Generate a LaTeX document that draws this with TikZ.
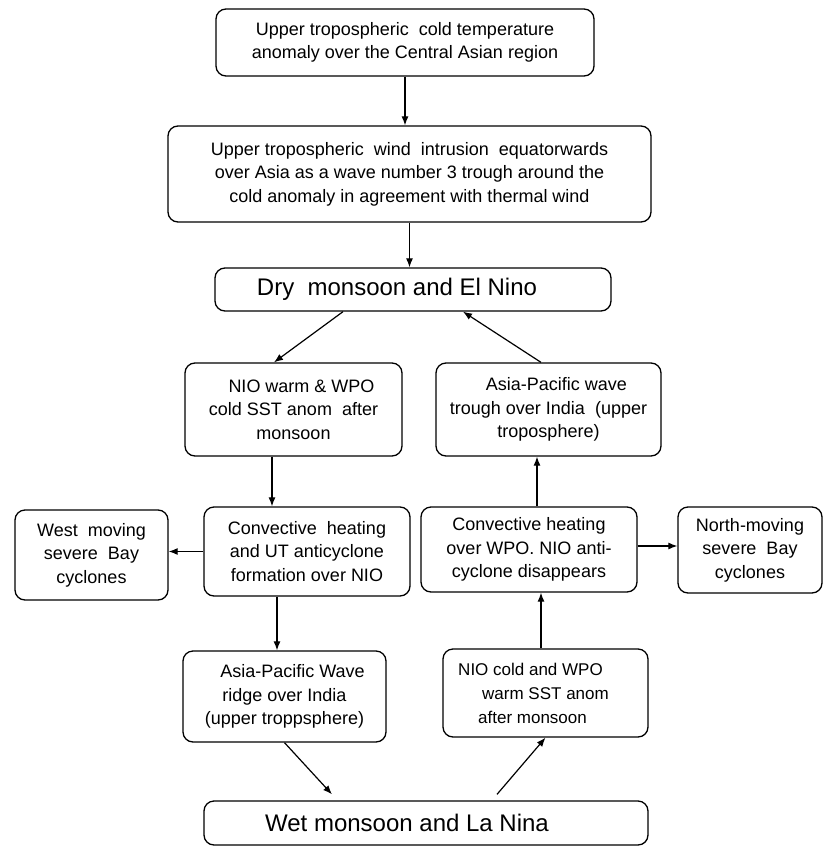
\documentclass[tikz,border=0pt]{standalone}
\usepackage{fontspec}
\setmainfont{Liberation Sans}
\usetikzlibrary{arrows.meta}
\begin{document}
\begin{tikzpicture}[x=1pt, y=-1pt, >={Latex[length=9pt,width=7pt]}, line width=1.2pt,
  box/.style={draw, rounded corners=10pt, line width=1.3pt, align=center, inner sep=0pt, font=\fontsize{18}{23.5}\selectfont},
  bigbox/.style={box, font=\fontsize{24}{28}\selectfont}]
\useasboundingbox (0,0) rectangle (824,846);
\node[box, minimum width=378pt, minimum height=67pt] (cold) at (405,42.5) {Upper tropospheric\ \ cold temperature\\anomaly over the Central Asian region};
\node[box, minimum width=483pt, minimum height=96pt] (wind) at (409.5,174) {Upper tropospheric\ \ wind\ \ intrusion\ \ equatorwards\\over Asia as a wave number 3 trough around the\\cold anomaly in agreement with thermal wind};
\node[bigbox, minimum width=396pt, minimum height=43pt] (dry) at (413,289.5) {Dry\ \ monsoon and El Nino\hspace*{32pt}};
\node[box, minimum width=217pt, minimum height=93pt] (nwarm) at (293.5,409.5) {\hspace*{16pt}NIO warm \& WPO\\cold SST anom\ \ after\\monsoon};
\node[box, minimum width=225pt, minimum height=93pt] (trough) at (548.5,409.5) {\hspace*{16pt}Asia-Pacific wave\\trough over India\ \ (upper\\troposphere)};
\node[box, minimum width=206pt, minimum height=89pt] (convl) at (307,551.5) {Convective\ \ heating\\and UT anticyclone\\formation over NIO};
\node[box, minimum width=153pt, minimum height=90pt] (west) at (91.5,555) {West\ \ moving\\severe\ \ Bay\\cyclones};
\node[box, minimum width=216pt, minimum height=85pt] (convr) at (529,549.5) {Convective heating\\over WPO. NIO anti-\\cyclone disappears};
\node[box, minimum width=144pt, minimum height=86pt] (north) at (750,550) {North-moving\\severe\ \ Bay\\cyclones};
\node[box, minimum width=203pt, minimum height=91pt] (ridge) at (284.5,696.5) {\hspace*{16pt}Asia-Pacific Wave\\ridge over India\\(upper troppsphere)};
\node[box, font=\fontsize{17}{24}\selectfont, minimum width=205pt, minimum height=88pt] (ncold) at (545.5,693) {NIO cold and WPO\hspace*{30pt}\\warm SST anom\hspace*{30pt}\\after monsoon\hspace*{26pt}};
\node[bigbox, minimum width=444pt, minimum height=44pt] (wet) at (426,823) {Wet monsoon and La Nina\hspace*{38pt}};
\draw[->] (cold.south) -- (cold.south |- wind.north);
\draw[->] (wind.south) -- (wind.south |- dry.north);
\draw[->] ([xshift=-70pt]dry.south) -- ([xshift=-19.5pt]nwarm.north);
\draw[->] ([xshift=-7.5pt]trough.north) -- ([xshift=50pt]dry.south);
\draw[->] ([xshift=-21.5pt]nwarm.south) -- ([xshift=-21.5pt]nwarm.south |- convl.north);
\draw[->] ([xshift=8pt]convr.north) -- ([xshift=8pt]convr.north |- trough.south);
\draw[->] (convl.west) -- (convl.west -| west.east);
\draw[->] ([yshift=3.5pt]convr.east) -- ([yshift=3.5pt]convr.east -| north.west);
\draw[->] ([xshift=-30pt]convl.south) -- ([xshift=-30pt]convl.south |- ridge.north);
\draw[->] ([xshift=-4.5pt]ncold.north) -- ([xshift=-4.5pt]ncold.north |- convr.south);
\draw[->] (ridge.south) -- ([xshift=-94pt,yshift=6pt]wet.north);
\draw[->] ([xshift=71pt,yshift=6pt]wet.north) -- (ncold.south);
\end{tikzpicture}
\end{document}
